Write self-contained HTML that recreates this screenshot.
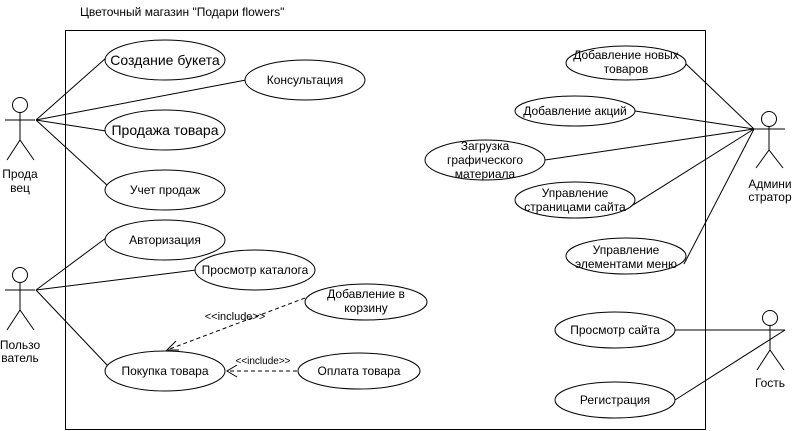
<!DOCTYPE html>
<html><head><meta charset="utf-8"><style>
html,body{margin:0;padding:0;background:#fff;}
svg{display:block;}
text{font-family:"Liberation Sans",sans-serif;fill:#000;}
</style></head><body>
<svg width="792" height="431" viewBox="0 0 792 431" xmlns="http://www.w3.org/2000/svg">
<g fill="none" stroke="#000" stroke-width="1">
<rect x="65.5" y="30.5" width="640" height="399"/>
<!-- Продавец lines -->
<line x1="36" y1="120" x2="106" y2="58"/>
<line x1="36" y1="120" x2="246" y2="80"/>
<line x1="36" y1="120" x2="106" y2="131"/>
<line x1="36" y1="120" x2="108" y2="186"/>
<!-- Пользователь lines -->
<line x1="36" y1="290" x2="106" y2="238"/>
<line x1="36" y1="290" x2="196" y2="270"/>
<line x1="36" y1="290" x2="108" y2="366"/>
<!-- Admin lines -->
<line x1="754" y1="129" x2="685" y2="63"/>
<line x1="754" y1="129" x2="635" y2="111"/>
<line x1="754" y1="129" x2="545" y2="160"/>
<line x1="754" y1="129" x2="633" y2="205"/>
<line x1="754" y1="129" x2="684" y2="264"/>
<!-- Guest lines -->
<line x1="675" y1="330" x2="785" y2="330"/>
<line x1="675" y1="400" x2="785" y2="330"/>
<!-- include dashed -->
<line x1="305" y1="298" x2="167" y2="350" stroke-dasharray="4,3"/>
<polyline points="176,341 167,350 179,350"/>
<line x1="297" y1="371" x2="227" y2="371" stroke-dasharray="4,3"/>
<polyline points="237,365 227,371 237,377"/>
<!-- ellipses -->
<g fill="#fff">
<ellipse cx="165" cy="60" rx="60" ry="20"/>
<ellipse cx="305" cy="80" rx="60" ry="20"/>
<ellipse cx="165" cy="130" rx="60" ry="20"/>
<ellipse cx="165" cy="190" rx="60" ry="20"/>
<ellipse cx="165" cy="240" rx="60" ry="20"/>
<ellipse cx="255" cy="270" rx="60" ry="20"/>
<ellipse cx="366" cy="302" rx="61" ry="18"/>
<ellipse cx="165" cy="371" rx="60" ry="20"/>
<ellipse cx="359" cy="371" rx="61" ry="18"/>
<ellipse cx="626" cy="63" rx="60" ry="17"/>
<ellipse cx="575" cy="111" rx="60" ry="15"/>
<ellipse cx="485" cy="160" rx="60" ry="20"/>
<ellipse cx="575" cy="200" rx="60" ry="18"/>
<ellipse cx="626" cy="256" rx="60" ry="18"/>
<ellipse cx="615" cy="330" rx="60" ry="18"/>
<ellipse cx="615" cy="400" rx="60" ry="18"/>
</g>
<!-- actors -->
<g>
<circle cx="20" cy="105" r="7.5"/><line x1="20" y1="112" x2="20" y2="140"/><line x1="5" y1="120" x2="35" y2="120"/><polyline points="7,160 20,140 34,160"/>
<circle cx="20" cy="275" r="7.5"/><line x1="20" y1="282" x2="20" y2="310"/><line x1="5" y1="290" x2="35" y2="290"/><polyline points="7,330 20,310 34,330"/>
<circle cx="769" cy="119" r="7.5"/><line x1="769" y1="126" x2="769" y2="150"/><line x1="754" y1="129" x2="785" y2="129"/><polyline points="756,168 769,150 783,168"/>
<circle cx="770" cy="318" r="7.5"/><line x1="770" y1="325" x2="770" y2="350"/><line x1="755" y1="330" x2="785" y2="330"/><polyline points="757,370 770,350 784,370"/>
</g>
</g>
<g font-size="12" text-anchor="middle">
<text x="80" y="16" text-anchor="start">Цветочный магазин "Подари flowers"</text>
<text x="165" y="65" font-size="14">Создание букета</text>
<text x="305" y="84">Консультация</text>
<text x="165" y="135" font-size="14">Продажа товара</text>
<text x="165" y="194">Учет продаж</text>
<text x="165" y="244">Авторизация</text>
<text x="255" y="274">Просмотр каталога</text>
<text x="366" y="298">Добавление в</text>
<text x="366" y="312">корзину</text>
<text x="165" y="375">Покупка товара</text>
<text x="359" y="375">Оплата товара</text>
<text x="235" y="320" font-size="11">&lt;&lt;include&gt;&gt;</text>
<text x="263" y="364" font-size="10">&lt;&lt;include&gt;&gt;</text>
<text x="626" y="59">Добавление новых</text>
<text x="626" y="73">товаров</text>
<text x="575" y="115">Добавление акций</text>
<text x="485" y="150">Загрузка</text>
<text x="485" y="164">графического</text>
<text x="485" y="178">материала</text>
<text x="575" y="197">Управление</text>
<text x="575" y="211">страницами сайта</text>
<text x="626" y="254">Управление</text>
<text x="626" y="268">элементами меню</text>
<text x="615" y="334">Просмотр сайта</text>
<text x="615" y="404">Регистрация</text>
<text x="20" y="178">Прода</text>
<text x="20" y="192">вец</text>
<text x="20" y="349">Пользо</text>
<text x="20" y="362">ватель</text>
<text x="770" y="188">Админи</text>
<text x="770" y="201">стратор</text>
<text x="770" y="387">Гость</text>
</g>
</svg>
</body></html>
